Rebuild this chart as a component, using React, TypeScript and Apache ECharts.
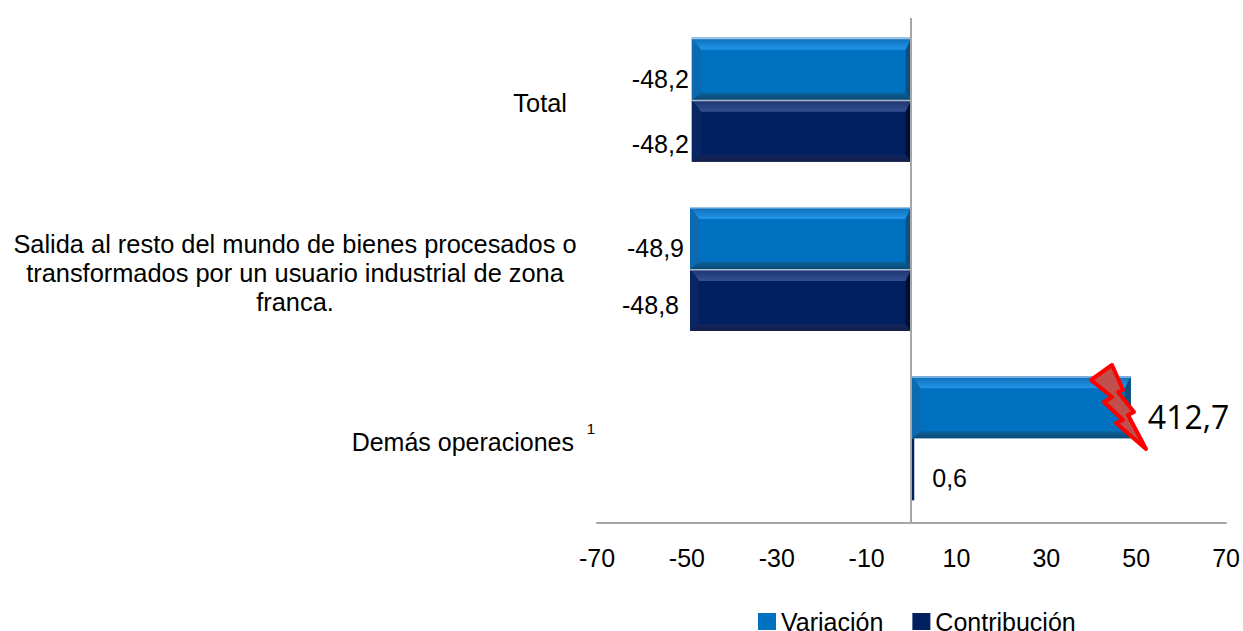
import React, { useEffect, useRef } from "react";
import * as echarts from "echarts";

const categories = [
  "Total",
  "Salida al resto del mundo de bienes procesados o\ntransformados por un usuario industrial de zona\nfranca.",
  "Demás operaciones",
];
const seriesNames = ["Variación", "Contribución"];
// Lengths as drawn in the picture (the 412,7 bar is cut at the axis range in the source)
const variationDrawn = [-48.9, -49.3, 48.8];
const contributionDrawn = [-48.9, -49.3, 0.6];
const variationLabels = ["-48,2", "-48,9", "412,7"];
const contributionLabels = ["-48,2", "-48,8", "0,6"];
const xTicks = { min: -70, max: 70, interval: 20 };

const FONT = "'Liberation Sans', Arial, sans-serif";
const BAR_W = 62;

const vGrad = (a: string, b: string) => ({
  type: "linear", x: 0, y: 0, x2: 0, y2: 1,
  colorStops: [{ offset: 0, color: a }, { offset: 1, color: b }],
});

const palette = {
  v: { face: "#0070c0", top: vGrad("#0f6db6", "#2295ea"), bottom: vGrad("#0b6299", "#0a4a74"), left: "#0c6ab0", right: "#0b4f7e", rim: "#9cc3e4" },
  c: { face: "#002060", top: vGrad("#1c3470", "#34508f"), bottom: vGrad("#0f2660", "#131f45"), left: "#0a2563", right: "#000f33", rim: "#aab8d0" },
};

function bevelSeries(values: number[], shift: number, p: typeof palette.v) {
  return {
    type: "custom",
    silent: true,
    clip: false,
    z: 3,
    data: values.map((v, i) => [v, i]),
    encode: { x: 0, y: 1 },
    renderItem: (_: any, api: any) => {
      const v = api.value(0);
      const c = api.value(1);
      const end = api.coord([v, c]);
      const base = api.coord([0, c]);
      const x0 = Math.min(end[0], base[0]);
      const x1 = Math.max(end[0], base[0]);
      const y0 = base[1] + shift - BAR_W / 2;
      const y1 = y0 + BAR_W;
      const w = x1 - x0;
      if (w < 12) return { type: "group", children: [] };
      const t = 12, b = 7, l = 9, r = 6;
      const poly = (points: number[][], fill: any) => ({
        type: "polygon",
        shape: { points },
        style: { fill },
      });
      return {
        type: "group",
        children: [
          poly([[x0, y0], [x1, y0], [x1 - r, y0 + t], [x0 + l, y0 + t]], p.top),
          poly([[x0, y1], [x1, y1], [x1 - r, y1 - b], [x0 + l, y1 - b]], p.bottom),
          poly([[x0, y0], [x0 + l, y0 + t], [x0 + l, y1 - b], [x0, y1]], p.left),
          poly([[x1, y0], [x1 - r, y0 + t], [x1 - r, y1 - b], [x1, y1]], p.right),
          { type: "rect", shape: { x: x0, y: y0, width: w, height: 1.5 }, style: { fill: p.rim } },
        ],
      };
    },
  };
}

export default function App() {
  const ref = useRef<HTMLDivElement>(null);
  useEffect(() => {
    const chart = echarts.init(ref.current!, null, { renderer: "svg" });
    const labelText = (size: number, extra: any = {}) => ({
      show: true,
      fontFamily: FONT,
      fontSize: size,
      color: "#000",
      ...extra,
    });
    chart.setOption({
      animation: false,
      backgroundColor: "#fff",
      grid: { left: 597, right: 16, top: 15, bottom: 108 },
      legend: {
        data: seriesNames,
        left: 753,
        top: 604,
        itemWidth: 18,
        itemHeight: 17,
        itemGap: 29,
        icon: "rect",
        textStyle: { fontFamily: FONT, fontSize: 25, lineHeight: 20, color: "#000" },
      },
      xAxis: {
        type: "value",
        min: xTicks.min,
        max: xTicks.max,
        interval: xTicks.interval,
        splitLine: { show: false },
        axisTick: { show: false },
        axisLine: { show: true, lineStyle: { color: "#a6a6a6", width: 2 } },
        axisLabel: { fontFamily: FONT, fontSize: 25, color: "#000", margin: 22 },
      },
      yAxis: {
        type: "category",
        inverse: true,
        data: categories,
        axisLine: { show: false },
        axisTick: { show: false },
        axisLabel: { show: false },
      },
      series: [
        {
          name: seriesNames[0],
          type: "bar",
          barWidth: BAR_W,
          barGap: 0,
          itemStyle: { color: palette.v.face },
          z: 2,
          data: variationDrawn.map((v, i) => ({
            value: v,
            label:
              i === 2
                ? labelText(32, { position: "right", distance: 17, offset: [0, 9], fontFamily: "'Open Sans', sans-serif" })
                : labelText(25, { position: "left", distance: i === 0 ? 3 : 6, offset: [0, 10] }),
          })),
          label: { show: true, formatter: (p: any) => variationLabels[p.dataIndex] },
        },
        {
          name: seriesNames[1],
          type: "bar",
          barWidth: BAR_W,
          barGap: 0,
          itemStyle: { color: palette.c.face },
          z: 2,
          data: contributionDrawn.map((v, i) => ({
            value: v,
            label:
              i === 2
                ? labelText(25, { position: "right", distance: 18, offset: [0, 9] })
                : labelText(25, { position: "left", distance: i === 0 ? 3 : 11, offset: [0, i === 0 ? 13 : 5] }),
          })),
          label: { show: true, formatter: (p: any) => contributionLabels[p.dataIndex] },
        },
        bevelSeries(variationDrawn, -BAR_W / 2, palette.v),
        bevelSeries(contributionDrawn, BAR_W / 2, palette.c),
      ],
      graphic: [
        { type: "line", z: 5, shape: { x1: 911, y1: 18, x2: 911, y2: 523 }, style: { stroke: "#a6a6a6", lineWidth: 2 } },
        { type: "text", x: 567, y: 103, style: { text: categories[0], align: "right", verticalAlign: "middle", font: `25.4px ${FONT}`, fill: "#000" } },
        { type: "text", x: 295, y: 273, style: { text: categories[1], align: "center", verticalAlign: "middle", font: `25.4px ${FONT}`, lineHeight: 29, fill: "#000" } },
        { type: "text", x: 574, y: 442, style: { text: categories[2], align: "right", verticalAlign: "middle", font: `25px ${FONT}`, fill: "#000" } },
        { type: "text", x: 591, y: 428, style: { text: "1", align: "center", verticalAlign: "middle", font: `15px ${FONT}`, fill: "#000" } },
        {
          type: "polygon",
          z: 20,
          shape: {
            points: [
              [1112, 365], [1123, 390], [1118, 392], [1134, 412], [1128, 415], [1146, 449],
              [1116, 423], [1123, 420], [1104, 402], [1112, 397], [1091, 380],
            ],
          },
          style: { fill: "#c0504d", stroke: "#ff0000", lineWidth: 4, lineJoin: "round" },
        },
      ],
    });
    return () => chart.dispose();
  }, []);
  return <div ref={ref} style={{ position: "fixed", left: 0, top: 0, width: 1243, height: 631 }} />;
}
